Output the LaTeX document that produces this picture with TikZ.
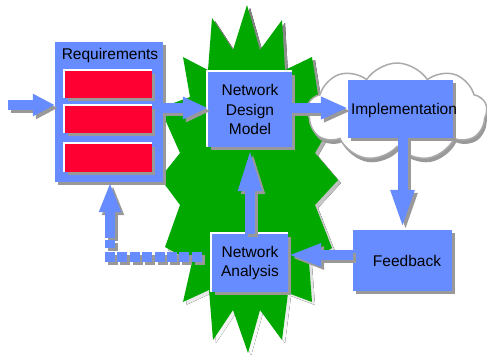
\documentclass[tikz,border=0pt]{standalone}
\usepackage{fontspec}
\setmainfont{Liberation Sans}
\usetikzlibrary{arrows.meta,shapes.symbols,shadows,calc}
\definecolor{boxblue}{RGB}{102,140,255}
\definecolor{burst}{RGB}{0,168,0}
\definecolor{shade}{RGB}{153,153,153}
\definecolor{reqred}{RGB}{255,0,51}
\definecolor{cloudline}{RGB}{170,170,170}

% block arrow with a flat grey shadow underneath
\newcommand\flowarrow[2]{%
  \draw[#1,draw=shade,transform canvas={xshift=3pt,yshift=-3pt}] #2;
  \draw[#1,draw=boxblue] #2;}

\begin{document}
\begin{tikzpicture}[x=1pt,y=-1pt,
  txt/.style={font=\fontsize{15.5}{19.5}\selectfont, align=center, inner sep=0pt},
  flatshadow/.style={drop shadow={shadow xshift=3pt,shadow yshift=-3pt,fill=shade,opacity=1}},
  box/.style={txt, fill=boxblue, flatshadow},
  slot/.style={fill=reqred, inner sep=0pt, minimum width=87pt, minimum height=27pt, flatshadow},
  blk/.style={line width=10pt, line cap=butt, -{Triangle[length=#1,width=21pt]}},
  blk/.default=25pt,
  dashline/.style={line width=10pt, line cap=butt, dash pattern=on 10pt off 2.4pt},
  dashblk/.style={line width=10pt, line cap=butt,
    dash pattern=on 8pt off 2.5pt on 200pt, -{Triangle[length=30pt,width=20pt]}},
]
\useasboundingbox (0,0) rectangle (487,354);

% green burst behind the design/analysis loop
\def\burstpath{(247,5) -- (260,50) -- (282,20) -- (285,70) -- (312,57) -- (318,95)
  -- (335,118) -- (315,153) -- (338,180) -- (315,205) -- (332,248) -- (309,262)
  -- (312,302) -- (288,293) -- (282,340) -- (260,310) -- (248,353) -- (233,310)
  -- (213,340) -- (209,290) -- (183,302) -- (192,262) -- (165,247) -- (180,205)
  -- (160,178) -- (180,153) -- (160,108) -- (190,97) -- (183,57) -- (208,70)
  -- (212,18) -- (233,50) -- cycle}
\fill[shade] [transform canvas={xshift=3pt,yshift=-3pt}] \burstpath;
\fill[burst] \burstpath;

% cloud around the implementation step
\node[cloud, cloud puffs=9, cloud puff arc=115, aspect=1.9,
      minimum width=180pt, minimum height=98pt, inner sep=0pt,
      fill=white, draw=cloudline, line width=1.5pt,
      drop shadow={shadow xshift=2pt,shadow yshift=-4pt,fill=shade,opacity=1}]
      (cl) at (397,112) {};

% process boxes
\node[box, minimum width=108pt, minimum height=140pt] (req) at (109,112) {};
\node[txt] (reqtitle) at (110,55) {Requirements};
\node[slot] (r1) at (108.5,84.5) {};
\node[slot] (r2) at (108.5,119.5) {};
\node[slot, minimum height=28pt] (r3) at (108.5,158) {};

\node[box, minimum width=84pt, minimum height=75pt] (ndm) at (250,109.5) {Network\\Design\\Model};
\node[box, minimum width=105pt, minimum height=58pt] (impl) at (400.5,109) {};
\node[txt] (impltext) at (404,110) {Implementation};
\node[box, minimum width=99pt, minimum height=61pt] (fb) at (402.5,260.5) {\hspace*{9pt}Feedback};
\node[box, minimum width=76pt, minimum height=58pt] (na) at (250,263) {Network\\Analysis};

% light edges on the upper left of the raised boxes
\foreach \n in {r1,r2,r3,ndm,na}
  \draw[white, line width=1.5pt] ($(\n.south west)+(-1,0)$) |- ($(\n.north east)+(0,-1)$);

% flow arrows
\coordinate (in) at (8,105);
\flowarrow{blk=22pt}{(in) -- (in -| req.west)}
\flowarrow{blk=25pt}{($(req.east)+(0,-4)$) -- ($(ndm.west)+(0,-1.5)$)}
\flowarrow{blk=27pt}{($(ndm.east)+(0,-1.5)$) -- ($(ndm.east -| impl.west)+(0,-1.5)$)}
\flowarrow{blk=40pt}{(fb.north |- impl.south) -- (fb.north)}
\flowarrow{blk=33pt}{($(fb.west)+(0,-5.5)$) -- ($(na.east)+(0,-8)$)}
\flowarrow{blk=44pt}{(na.north) -- (ndm.south)}

% dashed return path from analysis back to requirements
\coordinate (bend) at (105,257);
\coordinate (riser) at (110,248);
\flowarrow{dashline}{($(na.west)+(-10,-6)$) -- (bend)}
\flowarrow{dashblk}{(riser) -- (riser |- req.south)}
\end{tikzpicture}
\end{document}
